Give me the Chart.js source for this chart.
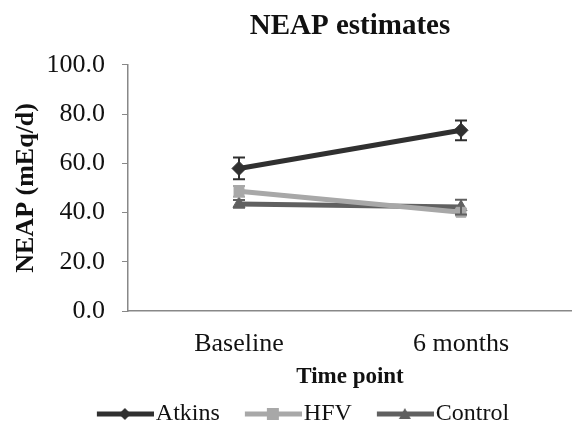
<!DOCTYPE html>
<html>
<head>
<meta charset="utf-8">
<script src="https://cdn.jsdelivr.net/npm/chart.js@4"></script>
<style>
  html, body { margin: 0; padding: 0; background: #fff; }
  #wrap { width: 572px; height: 422px; }
</style>
</head>
<body>
<div id="wrap"><canvas id="neapChart" width="572" height="422"></canvas></div>
<script>
// data
const timePoints = ['Baseline', '6 months'];
const atkins = [57.9, 73.4];
const atkinsErr = [4.4, 4.0];
const hfv = [48.6, 40.1];
const hfvErr = [2.2, 1.2];
const control = [43.5, 42.2];
const controlErr = [1.6, 3.0];

const serif = '"Liberation Serif", "Times New Roman", serif';

// error bars drawn with the chart's own y scale
const errorBars = {
  id: 'errorBars',
  afterDatasetsDraw(chart) {
    const ctx = chart.ctx;
    const yScale = chart.scales.y;
    chart.data.datasets.forEach((ds, di) => {
      const meta = chart.getDatasetMeta(di);
      meta.data.forEach((pt, i) => {
        const v = ds.data[i], e = ds.errors[i];
        const yTop = yScale.getPixelForValue(v + e);
        const yBot = yScale.getPixelForValue(v - e);
        ctx.save();
        ctx.strokeStyle = ds.borderColor;
        ctx.lineWidth = 2;
        ctx.beginPath();
        ctx.moveTo(pt.x, yTop); ctx.lineTo(pt.x, yBot);
        ctx.moveTo(pt.x - 6, yTop); ctx.lineTo(pt.x + 6, yTop);
        ctx.moveTo(pt.x - 6, yBot); ctx.lineTo(pt.x + 6, yBot);
        ctx.stroke();
        ctx.restore();
      });
    });
  }
};

// nudge the legend a little to the right, like the original
const legendShift = {
  id: 'legendShift',
  afterLayout(chart) {
    chart.legend.left += 3;
    chart.legend.right += 3;
  }
};

// legend symbol: line with the marker in the middle (transparent lead-in on the left)
function legendIcon(color, style) {
  const c = document.createElement('canvas');
  c.width = 89; c.height = 16;
  const g = c.getContext('2d');
  g.strokeStyle = color; g.fillStyle = color; g.lineWidth = 5;
  g.beginPath(); g.moveTo(32, 8); g.lineTo(89, 8); g.stroke();
  const m = 60;
  g.beginPath();
  if (style === 'rectRot') {
    g.moveTo(m, 2); g.lineTo(m + 6, 8); g.lineTo(m, 14); g.lineTo(m - 6, 8);
  } else if (style === 'rect') {
    g.rect(m - 6, 2, 12, 12);
  } else {
    g.moveTo(m, 2); g.lineTo(m + 6, 13); g.lineTo(m - 6, 13);
  }
  g.closePath(); g.fill();
  return c;
}

const ds = (label, data, errors, color, style) => ({
  label: label,
  data: data,
  errors: errors,
  borderColor: color,
  backgroundColor: color,
  borderWidth: 5,
  pointStyle: style,
  pointRadius: 7,
  pointBorderWidth: 1,
  tension: 0,
  icon: legendIcon(color, style)
});

new Chart(document.getElementById('neapChart').getContext('2d'), {
  type: 'line',
  data: {
    labels: timePoints,
    datasets: [
      ds('Atkins', atkins, atkinsErr, '#303030', 'rectRot'),
      ds('HFV', hfv, hfvErr, '#a8a8a8', 'rect'),
      ds('Control', control, controlErr, '#606060', 'triangle')
    ]
  },
  options: {
    responsive: false,
    animation: false,
    layout: { autoPadding: false, padding: { top: 0, left: 0, right: -6, bottom: -14 } },
    plugins: {
      title: {
        display: true,
        text: 'NEAP estimates',
        fullSize: false,
        color: '#111',
        font: { family: serif, size: 29, weight: 'bold' },
        padding: { top: 9, bottom: 21 }
      },
      legend: {
        position: 'bottom',
        labels: {
          usePointStyle: true,
          pointStyleWidth: 69,
          boxHeight: 16,
          padding: 3,
          color: '#111',
          font: { family: serif, size: 24 },
          generateLabels(chart) {
            const items = Chart.defaults.plugins.legend.labels.generateLabels(chart);
            items.forEach(it => { it.pointStyle = chart.data.datasets[it.datasetIndex].icon; });
            return items;
          }
        }
      },
      tooltip: { enabled: false }
    },
    scales: {
      x: {
        offset: true,
        grid: { display: false, drawTicks: false },
        border: { color: '#888', width: 1.5 },
        ticks: { color: '#111', padding: 18, font: { family: serif, size: 26 } },
        title: {
          display: true,
          text: 'Time point',
          color: '#111',
          font: { family: serif, size: 23, weight: 'bold' },
          padding: { top: 0, bottom: 8 }
        },
        afterFit: s => { s.height = 88; s.paddingLeft = 0; s.paddingRight = 0; }
      },
      y: {
        min: 0,
        max: 100,
        ticks: {
          stepSize: 20,
          color: '#111',
          padding: 17,
          font: { family: serif, size: 26 },
          callback: v => v.toFixed(1)
        },
        grid: { drawOnChartArea: false, drawTicks: true, tickLength: 6, color: '#888' },
        border: { color: '#888', width: 1.5 },
        title: {
          display: true,
          text: 'NEAP (mEq/d)',
          color: '#111',
          font: { family: serif, size: 26, weight: 'bold' },
          padding: { top: 11, bottom: 0 }
        },
        afterFit: s => { s.width = 128; }
      }
    }
  },
  plugins: [errorBars, legendShift]
});
</script>
</body>
</html>
